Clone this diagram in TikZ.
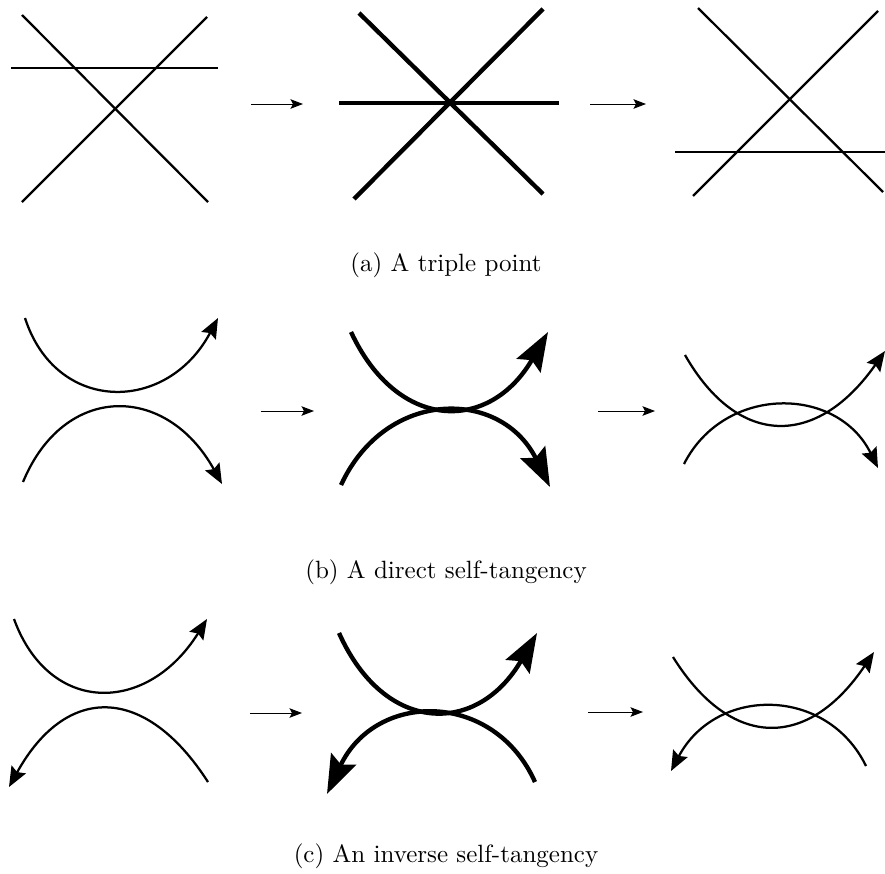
\documentclass[tikz,border=0pt]{standalone}
\usepackage{tikz}
\usetikzlibrary{arrows.meta}
\tikzset{
  strand/.style={line width=0.9pt, color=black},
  boldstrand/.style={line width=1.75pt, color=black},
  strandtip/.style={-{Stealth[length=8pt, width=6.5pt, inset=1.2pt]}},
  strandtail/.style={{Stealth[length=8pt, width=6.5pt, inset=1.2pt]}-},
  boldtip/.style={-{Stealth[length=15.5pt, width=11pt, inset=2.5pt]}},
  boldtail/.style={{Stealth[length=15.5pt, width=11pt, inset=2.5pt]}-},
  movearrow/.style={-{Stealth[length=5pt, width=3.8pt, inset=1pt]}, line width=0.4pt},
  caption/.style={anchor=base, font=\normalsize},
}

\begin{document}
\begin{tikzpicture}[x=0.4pt, y=-0.4pt]
  \useasboundingbox (0,0) rectangle (885,873);

  % === Panel (a): a triple point ===
  \draw[strand] (22,15) -- (208,202);
  \draw[strand] (207,17) -- (22,202);
  \draw[strand] (11,68) -- (218,68);

  \draw[boldstrand] (359,13) -- (543,194);
  \draw[boldstrand] (543,9) -- (354,199);
  \draw[boldstrand] (339,103) -- (559,103);

  \draw[strand] (698,8) -- (883,192);
  \draw[strand] (878,11) -- (693,196);
  \draw[strand] (675,152) -- (885,152);

  \coordinate (a1s) at (251,104);
  \coordinate (a1e) at (303,104);
  \coordinate (a2s) at (590,104);
  \coordinate (a2e) at (646,104);
  \draw[movearrow] (a1s) -- (a1e);
  \draw[movearrow] (a2s) -- (a2e);

  \node[caption] (capa) at (446,271) {(a) A triple point};

  % === Panel (b): a direct self-tangency ===
  \draw[strand, strandtip] (25,318) .. controls (56,414) and (167,414) .. (218,318);
  \draw[strand, strandtip] (23,482) .. controls (64,383) and (166,383) .. (222,484);

  \draw[boldstrand, boldtip] (351,332) .. controls (398,432.5) and (490,432.5) .. (548,332);
  \draw[boldstrand, boldtip] (341,485) .. controls (386,388) and (501,388) .. (550,487);

  \draw[strand, strandtip] (685,355) .. controls (738,448) and (817,448) .. (885,351);
  \draw[strand, strandtip] (684,464) .. controls (724,385) and (837,385) .. (878,468);

  \coordinate (b1s) at (261,411);
  \coordinate (b1e) at (314,411);
  \coordinate (b2s) at (598,411);
  \coordinate (b2e) at (655,411);
  \draw[movearrow] (b1s) -- (b1e);
  \draw[movearrow] (b2s) -- (b2e);

  \node[caption] (capb) at (446,578) {(b) A direct self-tangency};

  % === Panel (c): an inverse self-tangency ===
  \draw[strand, strandtip] (14,619) .. controls (49,715) and (147,715) .. (207,619);
  \draw[strand, strandtail] (9,787) .. controls (66,684) and (145,684) .. (208,782);

  \draw[boldstrand, boldtip] (339,633) .. controls (385,735.5) and (478,735.5) .. (537,633);
  \draw[boldstrand, boldtail] (327,794) .. controls (376,690.5) and (494,690.5) .. (535,782);

  \draw[strand, strandtip] (673,657) .. controls (731,750) and (808,750) .. (874,652);
  \draw[strand, strandtail] (671,771) .. controls (716,686) and (827,686) .. (866,766);

  \coordinate (c1s) at (250,713);
  \coordinate (c1e) at (302,713);
  \coordinate (c2s) at (588,712);
  \coordinate (c2e) at (643,712);
  \draw[movearrow] (c1s) -- (c1e);
  \draw[movearrow] (c2s) -- (c2e);

  \node[caption] (capc) at (446,862) {(c) An inverse self-tangency};

\end{tikzpicture}
\end{document}
